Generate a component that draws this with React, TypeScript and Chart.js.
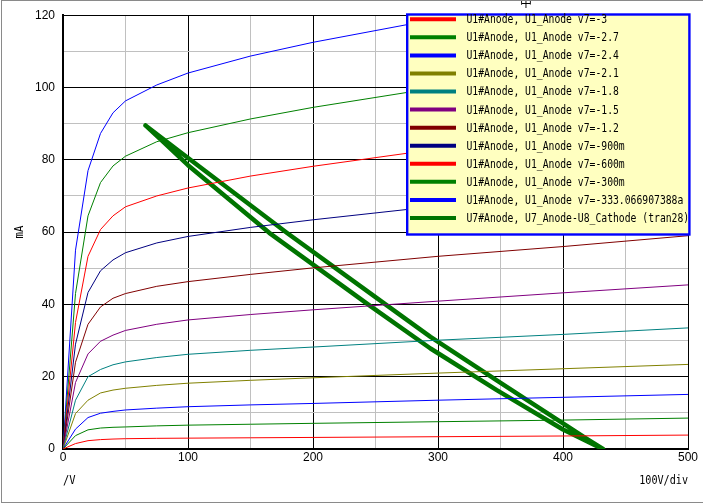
import React, { useEffect, useRef } from 'react';
import { Chart, registerables } from 'chart.js';

Chart.register(...registerables);

// Plate voltage sample points (V)
const plateVolts = [0, 10, 20, 30, 40, 50, 75, 100, 150, 200, 300, 400, 500];

// Plate current (mA) for each grid voltage v7
const iG300 = [0, 1.5, 2.3, 2.6, 2.75, 2.85, 2.95, 3.0, 3.1, 3.2, 3.4, 3.6, 3.85];
const iG270 = [0, 3.7, 5.3, 5.8, 6.0, 6.1, 6.4, 6.6, 6.85, 7.1, 7.55, 8.0, 8.55];
const iG240 = [0, 5.5, 8.7, 9.9, 10.4, 10.8, 11.3, 11.7, 12.2, 12.6, 13.5, 14.3, 15.1];
const iG210 = [0, 9.8, 13.5, 15.5, 16.3, 16.8, 17.6, 18.2, 19.0, 19.7, 21.0, 22.2, 23.4];
const iG180 = [0, 13.5, 20, 22, 23.3, 24.1, 25.3, 26.2, 27.3, 28.2, 30.1, 31.7, 33.5];
const iG150 = [0, 18.4, 26.3, 29.8, 31.5, 32.8, 34.5, 35.7, 37.2, 38.5, 40.9, 43.2, 45.4];
const iG120 = [0, 24, 34.5, 39.3, 41.7, 43.0, 45.0, 46.3, 48.3, 50.1, 53.3, 56.0, 59.0];
const iG090 = [0, 29, 43.3, 49.3, 52.3, 54.3, 57.0, 58.8, 61.3, 63.4, 67.2, 70.5, 73.5];
const iG060 = [0, 35, 53.3, 60.7, 64.5, 67, 70.0, 72.2, 75.5, 78.2, 83, 87, 91];
const iG030 = [0, 43, 64.5, 73.7, 78.3, 81, 85.0, 87.5, 91.3, 94.5, 100, 104.5, 108.5];
const iG000 = [0, 55, 77, 87.3, 93, 96.3, 100.7, 104, 108.7, 112.5, 119, 124.5, 130];

// Load-line loop (transient) : anode voltage (V) and current (mA)
const loopVolts = [66, 94, 179, 258, 294, 347, 400, 420, 432, 426, 400, 347, 294, 244, 165, 100, 80, 66];
const loopCurr = [89.5, 82.1, 59.8, 40, 31, 19, 7.1, 2.6, 0, 1.0, 5.4, 16.3, 27.8, 40, 59.8, 78.5, 85.0, 89.5];

const seriesLabels = [
  'U1#Anode, U1_Anode v7=-3',
  'U1#Anode, U1_Anode v7=-2.7',
  'U1#Anode, U1_Anode v7=-2.4',
  'U1#Anode, U1_Anode v7=-2.1',
  'U1#Anode, U1_Anode v7=-1.8',
  'U1#Anode, U1_Anode v7=-1.5',
  'U1#Anode, U1_Anode v7=-1.2',
  'U1#Anode, U1_Anode v7=-900m',
  'U1#Anode, U1_Anode v7=-600m',
  'U1#Anode, U1_Anode v7=-300m',
  'U1#Anode, U1_Anode v7=-333.066907388a',
];
const loopLabel = 'U7#Anode, U7_Anode-U8_Cathode (tran28)';
const seriesColors = ['#FF0000', '#008000', '#0000FF', '#808000', '#008080', '#800080', '#800000', '#000080', '#FF0000', '#008000', '#0000FF'];
const loopColor = '#007400';
const seriesCurrents = [iG300, iG270, iG240, iG210, iG180, iG150, iG120, iG090, iG060, iG030, iG000];

const xTickLabels = [0, 100, 200, 300, 400, 500];
const yTickLabels = [0, 20, 40, 60, 80, 100, 120];

const TICK_FONT = 'Liberation Sans, Arial, sans-serif';
const TEXT_FONT = '"DejaVu Sans Mono", monospace';

function drawText(ctx: CanvasRenderingContext2D, s: string, x: number, y: number, charW: number) {
  ctx.fillText(s, x, y, s.length * charW);
}

const overlayPlugin = {
  id: 'overlay',
  afterDraw(chart: any) {
    const ctx: CanvasRenderingContext2D = chart.ctx;
    const ca = chart.chartArea;
    ctx.save();

    // Legend box
    const lx = 407, ly = 14, lw = 283, lh = 221;
    ctx.fillStyle = '#FFFFC0';
    ctx.fillRect(lx, ly, lw, lh);
    ctx.strokeStyle = '#0000FF';
    ctx.lineWidth = 2.4;
    ctx.strokeRect(lx + 0.2, ly + 0.5, lw - 0.8, lh - 1);
    chart.data.datasets.forEach((ds: any, i: number) => {
      const yc = 19.3 + i * 18.06;
      ctx.strokeStyle = ds.borderColor;
      ctx.lineWidth = 4;
      ctx.lineCap = 'butt';
      ctx.beginPath();
      ctx.moveTo(410, yc);
      ctx.lineTo(456, yc);
      ctx.stroke();
      ctx.fillStyle = '#000';
      ctx.font = '12px ' + TEXT_FONT;
      ctx.textBaseline = 'middle';
      ctx.textAlign = 'left';
      drawText(ctx, ds.label, 466.5, yc + 0.8, 5.86);
    });

    // Axis titles
    ctx.fillStyle = '#000';
    ctx.font = '12px ' + TEXT_FONT;
    ctx.textBaseline = 'middle';
    ctx.textAlign = 'left';
    drawText(ctx, '/V', ca.left, 481, 6.3);
    ctx.textAlign = 'right';
    drawText(ctx, '100V/div', ca.right, 481, 6.1);
    ctx.save();
    ctx.translate(20, 232);
    ctx.rotate(-Math.PI / 2);
    ctx.textAlign = 'center';
    drawText(ctx, 'mA', 0, 0, 6.4);
    ctx.restore();

    // clipped title glyph
    ctx.textAlign = 'center';
    ctx.textBaseline = 'alphabetic';
    ctx.font = '12px "Noto Sans CJK JP", sans-serif';
    ctx.fillText('中', 526, 7);

    // outer frame
    ctx.strokeStyle = '#8a8a8a';
    ctx.lineWidth = 1;
    ctx.strokeRect(1.5, 0.5, 702, 502);
    ctx.restore();
  },
};

export default function App() {
  const ref = useRef<HTMLCanvasElement | null>(null);
  useEffect(() => {
    document.body.style.margin = '0';
    const canvas = ref.current!;
    const datasets: any[] = seriesCurrents.map((arr, k) => ({
      label: seriesLabels[k],
      data: plateVolts.map((v, i) => ({ x: v, y: arr[i] })),
      borderColor: seriesColors[k],
      backgroundColor: seriesColors[k],
      borderWidth: 1,
      pointRadius: 0,
      showLine: true,
      fill: false,
      tension: 0,
    }));
    datasets.push({
      label: loopLabel,
      data: loopVolts.map((v, i) => ({ x: v, y: loopCurr[i] })),
      borderColor: loopColor,
      backgroundColor: loopColor,
      borderWidth: 4.5,
      pointRadius: 0,
      showLine: true,
      fill: false,
      tension: 0,
      borderJoinStyle: 'round',
      borderCapStyle: 'round',
    });
    const chart = new Chart(canvas, {
      type: 'scatter',
      data: { datasets },
      options: {
        animation: false,
        responsive: false,
        maintainAspectRatio: false,
        layout: { padding: { top: 14, right: 15, left: 0, bottom: 0 } },
        plugins: { legend: { display: false }, tooltip: { enabled: false }, title: { display: false } },
        scales: {
          x: {
            type: 'linear',
            min: 0,
            max: 500,
            afterFit: (s: any) => { s.height = 55; },
            ticks: {
              stepSize: 50,
              autoSkip: false,
              maxRotation: 0,
              padding: 1,
              color: '#000',
              font: { family: TICK_FONT, size: 12 },
              callback: (v: any) => (xTickLabels.includes(Number(v)) ? String(v) : ''),
            },
            grid: {
              color: (c: any) => (xTickLabels.includes(c.tick.value) ? '#000000' : '#c0c0c0'),
              lineWidth: 1,
              drawTicks: false,
            },
            border: { color: '#000', width: 2 },
          },
          y: {
            type: 'linear',
            min: 0,
            max: 120,
            afterFit: (s: any) => { s.width = 63; },
            ticks: {
              stepSize: 10,
              autoSkip: false,
              padding: 8,
              color: '#000',
              font: { family: TICK_FONT, size: 12 },
              callback: (v: any) => (yTickLabels.includes(Number(v)) ? String(v) : ''),
            },
            grid: {
              color: (c: any) => (yTickLabels.includes(c.tick.value) ? '#000000' : '#c0c0c0'),
              lineWidth: 1,
              drawTicks: false,
            },
            border: { color: '#000', width: 2 },
          },
        },
      },
      plugins: [overlayPlugin],
    });
    return () => chart.destroy();
  }, []);
  return <canvas ref={ref} width={703} height={504} style={{ display: 'block' }} />;
}
